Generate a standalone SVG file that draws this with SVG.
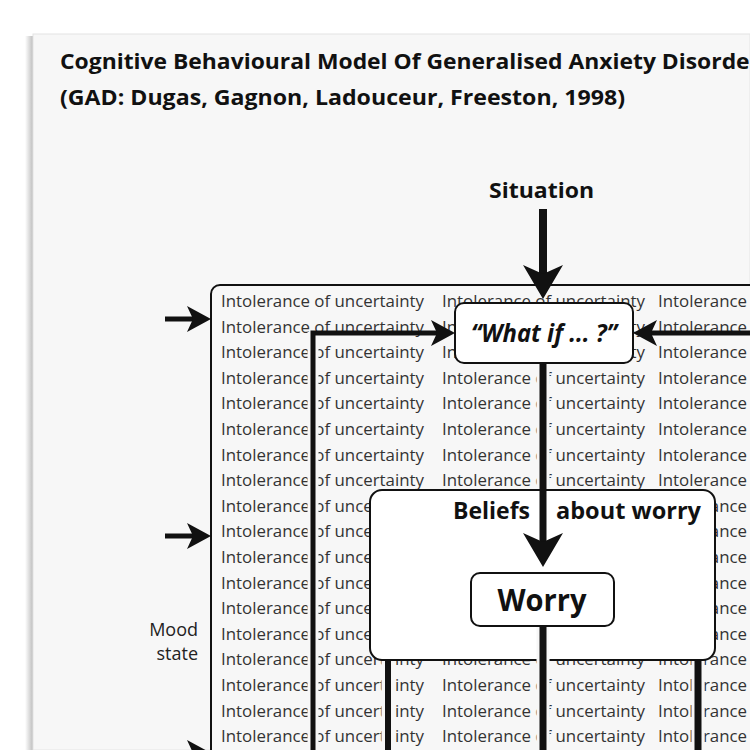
<svg xmlns="http://www.w3.org/2000/svg" width="750" height="750" viewBox="0 0 750 750">
  <defs>
    <linearGradient id="shadow" x1="0" y1="0" x2="1" y2="0">
      <stop offset="0" stop-color="#ffffff"/>
      <stop offset="1" stop-color="#b5b5b5"/>
    </linearGradient>
    <marker id="bigHead" viewBox="0 0 34 40" refX="9" refY="20" markerWidth="34" markerHeight="40" markerUnits="userSpaceOnUse" orient="auto">
      <path d="M0,0 L34,20 L0,40 L9,20 Z" fill="#111"/>
    </marker>
    <marker id="smallHead" viewBox="0 0 24 26" refX="6" refY="13" markerWidth="24" markerHeight="26" markerUnits="userSpaceOnUse" orient="auto">
      <path d="M0,0 L24,13 L0,26 L6,13 Z" fill="#111"/>
    </marker>
  </defs>
  <style>
    .title { font-family: "Open Sans", "Liberation Sans", sans-serif; font-weight: 700; font-size: 22px; fill: #111; }
    .grid { font-family: "Open Sans", "Liberation Sans", sans-serif; font-weight: 400; font-size: 17px; fill: #333; }
    .label { font-family: "Open Sans", "Liberation Sans", sans-serif; font-weight: 700; fill: #111; }
    .mood { font-family: "Open Sans", "Liberation Sans", sans-serif; font-size: 18px; fill: #222; }
    .box { fill: #ffffff; stroke: #111; stroke-width: 2; }
    .wire { fill: none; stroke: #111; }
    .halo { fill: none; stroke: #f7f7f7; }
  </style>

  <rect x="0" y="0" width="750" height="750" fill="#ffffff"/>
  <rect x="25" y="36" width="9" height="714" fill="url(#shadow)"/>
  <rect x="33" y="34" width="717" height="716" fill="#f7f7f7" stroke="#e4e4e4" stroke-width="1"/>

  <text class="title" x="60" y="69" textLength="700" lengthAdjust="spacingAndGlyphs">Cognitive Behavioural Model Of Generalised Anxiety Disorder</text>
  <text class="title" x="60" y="105" textLength="565" lengthAdjust="spacingAndGlyphs">(GAD: Dugas, Gagnon, Ladouceur, Freeston, 1998)</text>

  <g id="situation">
    <text class="label" x="541.5" y="198" font-size="22" text-anchor="middle" textLength="105" lengthAdjust="spacingAndGlyphs">Situation</text>
  </g>

  <g id="intolerance">
    <rect x="211" y="285" width="600" height="520" rx="9" fill="#f7f7f7" stroke="#111" stroke-width="2"/>
    <g class="grid">
      <text x="221" y="307" textLength="203" lengthAdjust="spacingAndGlyphs">Intolerance of uncertainty</text>
      <text x="442" y="307" textLength="203" lengthAdjust="spacingAndGlyphs">Intolerance of uncertainty</text>
      <text x="658" y="307" textLength="203" lengthAdjust="spacingAndGlyphs">Intolerance of uncertainty</text>
      <text x="221" y="332.6" textLength="203" lengthAdjust="spacingAndGlyphs">Intolerance of uncertainty</text>
      <text x="442" y="332.6" textLength="203" lengthAdjust="spacingAndGlyphs">Intolerance of uncertainty</text>
      <text x="658" y="332.6" textLength="203" lengthAdjust="spacingAndGlyphs">Intolerance of uncertainty</text>
      <text x="221" y="358.2" textLength="203" lengthAdjust="spacingAndGlyphs">Intolerance of uncertainty</text>
      <text x="442" y="358.2" textLength="203" lengthAdjust="spacingAndGlyphs">Intolerance of uncertainty</text>
      <text x="658" y="358.2" textLength="203" lengthAdjust="spacingAndGlyphs">Intolerance of uncertainty</text>
      <text x="221" y="383.8" textLength="203" lengthAdjust="spacingAndGlyphs">Intolerance of uncertainty</text>
      <text x="442" y="383.8" textLength="203" lengthAdjust="spacingAndGlyphs">Intolerance of uncertainty</text>
      <text x="658" y="383.8" textLength="203" lengthAdjust="spacingAndGlyphs">Intolerance of uncertainty</text>
      <text x="221" y="409.4" textLength="203" lengthAdjust="spacingAndGlyphs">Intolerance of uncertainty</text>
      <text x="442" y="409.4" textLength="203" lengthAdjust="spacingAndGlyphs">Intolerance of uncertainty</text>
      <text x="658" y="409.4" textLength="203" lengthAdjust="spacingAndGlyphs">Intolerance of uncertainty</text>
      <text x="221" y="435" textLength="203" lengthAdjust="spacingAndGlyphs">Intolerance of uncertainty</text>
      <text x="442" y="435" textLength="203" lengthAdjust="spacingAndGlyphs">Intolerance of uncertainty</text>
      <text x="658" y="435" textLength="203" lengthAdjust="spacingAndGlyphs">Intolerance of uncertainty</text>
      <text x="221" y="460.6" textLength="203" lengthAdjust="spacingAndGlyphs">Intolerance of uncertainty</text>
      <text x="442" y="460.6" textLength="203" lengthAdjust="spacingAndGlyphs">Intolerance of uncertainty</text>
      <text x="658" y="460.6" textLength="203" lengthAdjust="spacingAndGlyphs">Intolerance of uncertainty</text>
      <text x="221" y="486.2" textLength="203" lengthAdjust="spacingAndGlyphs">Intolerance of uncertainty</text>
      <text x="442" y="486.2" textLength="203" lengthAdjust="spacingAndGlyphs">Intolerance of uncertainty</text>
      <text x="658" y="486.2" textLength="203" lengthAdjust="spacingAndGlyphs">Intolerance of uncertainty</text>
      <text x="221" y="511.8" textLength="203" lengthAdjust="spacingAndGlyphs">Intolerance of uncertainty</text>
      <text x="658" y="511.8" textLength="203" lengthAdjust="spacingAndGlyphs">Intolerance of uncertainty</text>
      <text x="221" y="537.4" textLength="203" lengthAdjust="spacingAndGlyphs">Intolerance of uncertainty</text>
      <text x="658" y="537.4" textLength="203" lengthAdjust="spacingAndGlyphs">Intolerance of uncertainty</text>
      <text x="221" y="563" textLength="203" lengthAdjust="spacingAndGlyphs">Intolerance of uncertainty</text>
      <text x="658" y="563" textLength="203" lengthAdjust="spacingAndGlyphs">Intolerance of uncertainty</text>
      <text x="221" y="588.6" textLength="203" lengthAdjust="spacingAndGlyphs">Intolerance of uncertainty</text>
      <text x="658" y="588.6" textLength="203" lengthAdjust="spacingAndGlyphs">Intolerance of uncertainty</text>
      <text x="221" y="614.2" textLength="203" lengthAdjust="spacingAndGlyphs">Intolerance of uncertainty</text>
      <text x="658" y="614.2" textLength="203" lengthAdjust="spacingAndGlyphs">Intolerance of uncertainty</text>
      <text x="221" y="639.8" textLength="203" lengthAdjust="spacingAndGlyphs">Intolerance of uncertainty</text>
      <text x="658" y="639.8" textLength="203" lengthAdjust="spacingAndGlyphs">Intolerance of uncertainty</text>
      <text x="221" y="665.4" textLength="203" lengthAdjust="spacingAndGlyphs">Intolerance of uncertainty</text>
      <text x="442" y="665.4" textLength="203" lengthAdjust="spacingAndGlyphs">Intolerance of uncertainty</text>
      <text x="658" y="665.4" textLength="203" lengthAdjust="spacingAndGlyphs">Intolerance of uncertainty</text>
      <text x="221" y="691" textLength="203" lengthAdjust="spacingAndGlyphs">Intolerance of uncertainty</text>
      <text x="442" y="691" textLength="203" lengthAdjust="spacingAndGlyphs">Intolerance of uncertainty</text>
      <text x="658" y="691" textLength="203" lengthAdjust="spacingAndGlyphs">Intolerance of uncertainty</text>
      <text x="221" y="716.6" textLength="203" lengthAdjust="spacingAndGlyphs">Intolerance of uncertainty</text>
      <text x="442" y="716.6" textLength="203" lengthAdjust="spacingAndGlyphs">Intolerance of uncertainty</text>
      <text x="658" y="716.6" textLength="203" lengthAdjust="spacingAndGlyphs">Intolerance of uncertainty</text>
      <text x="221" y="742.2" textLength="203" lengthAdjust="spacingAndGlyphs">Intolerance of uncertainty</text>
      <text x="442" y="742.2" textLength="203" lengthAdjust="spacingAndGlyphs">Intolerance of uncertainty</text>
      <text x="658" y="742.2" textLength="203" lengthAdjust="spacingAndGlyphs">Intolerance of uncertainty</text>
    </g>
  </g>

  <g id="mood-state">
    <text class="mood" x="198" y="636" text-anchor="end">Mood</text>
    <text class="mood" x="198" y="660" text-anchor="end">state</text>
  </g>

  <g id="beliefs">
    <rect class="box" x="370" y="490" width="345" height="170" rx="12"/>
    <text class="label" x="453" y="519" font-size="23" textLength="77" lengthAdjust="spacingAndGlyphs">Beliefs</text>
    <text class="label" x="556" y="519" font-size="23" textLength="145" lengthAdjust="spacingAndGlyphs">about worry</text>
  </g>

  <g id="connectors">
    <g class="halo">
      <path d="M313,760 V332" stroke-width="11"/>
      <path d="M388,661 V760" stroke-width="13"/>
      <path d="M543,627 V760" stroke-width="13"/>
      <path d="M698,661 V760" stroke-width="13"/>
      <path d="M543,364 V489" stroke-width="13"/>
    </g>
    <g class="wire">
      <path d="M543,209 V274" stroke-width="8" marker-end="url(#bigHead)"/>
      <path d="M543,363 V542" stroke-width="7" marker-end="url(#bigHead)"/>
      <path d="M313,760 V333 H437" stroke-width="5" marker-end="url(#smallHead)"/>
      <path d="M760,333 H651" stroke-width="5" marker-end="url(#smallHead)"/>
      <path d="M165,319 H193" stroke-width="5" marker-end="url(#smallHead)"/>
      <path d="M165,536 H193" stroke-width="5" marker-end="url(#smallHead)"/>
      <path d="M165,753 H193" stroke-width="5" marker-end="url(#smallHead)"/>
      <path d="M543,626 V760" stroke-width="7"/>
      <path d="M388,660 V760" stroke-width="6"/>
      <path d="M698,660 V760" stroke-width="7"/>
    </g>
  </g>

  <g id="what-if">
    <rect class="box" x="455" y="303" width="178" height="60" rx="9"/>
    <text class="label" x="544" y="342" font-size="25" font-style="italic" text-anchor="middle" textLength="146" lengthAdjust="spacingAndGlyphs">“What if ... ?”</text>
  </g>

  <g id="worry">
    <rect class="box" x="471" y="573" width="143" height="53" rx="9"/>
    <text class="label" x="542" y="611" font-size="30" font-weight="800" text-anchor="middle" textLength="89" lengthAdjust="spacingAndGlyphs">Worry</text>
  </g>
</svg>
